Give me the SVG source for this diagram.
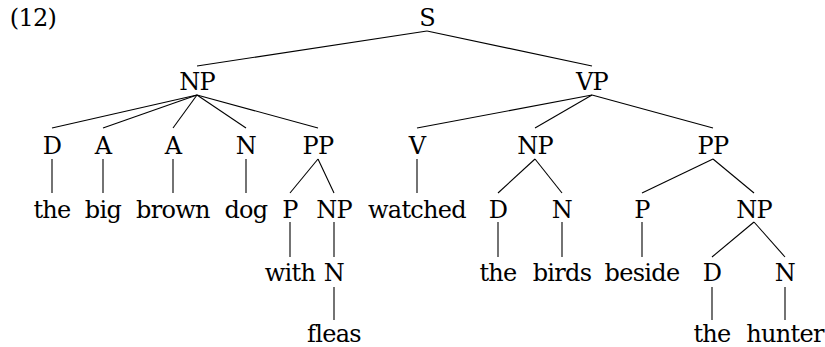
<svg xmlns="http://www.w3.org/2000/svg" width="825" height="347" viewBox="0 0 825 347">
<style>
text{font-family:'DejaVu Serif','Liberation Serif',serif;font-size:24px;letter-spacing:-0.7px;fill:#000;text-anchor:middle}
.e line{stroke:#000;stroke-width:1.1}
</style>
<rect width="825" height="347" fill="#fff"/>
<text x="33" y="26">(12)</text>
<g class="e" id="edges">
<line x1="427" y1="31" x2="197" y2="66"/>
<line x1="427" y1="31" x2="592" y2="66"/>
<line x1="197" y1="95" x2="52" y2="128"/>
<line x1="197" y1="95" x2="103" y2="128"/>
<line x1="197" y1="95" x2="173" y2="128"/>
<line x1="197" y1="95" x2="246" y2="128"/>
<line x1="197" y1="95" x2="318" y2="128"/>
<line x1="592" y1="95" x2="417" y2="128"/>
<line x1="592" y1="95" x2="535" y2="128"/>
<line x1="592" y1="95" x2="713" y2="128"/>
<line x1="52" y1="159" x2="52" y2="193"/>
<line x1="103" y1="159" x2="103" y2="193"/>
<line x1="173" y1="159" x2="173" y2="193"/>
<line x1="246" y1="159" x2="246" y2="193"/>
<line x1="318" y1="159" x2="290" y2="193"/>
<line x1="318" y1="159" x2="334" y2="193"/>
<line x1="417" y1="159" x2="417" y2="193"/>
<line x1="535" y1="159" x2="498" y2="193"/>
<line x1="535" y1="159" x2="562" y2="193"/>
<line x1="713" y1="159" x2="642" y2="193"/>
<line x1="713" y1="159" x2="754" y2="193"/>
<line x1="290" y1="222" x2="290" y2="257"/>
<line x1="334" y1="222" x2="334" y2="257"/>
<line x1="498" y1="222" x2="498" y2="257"/>
<line x1="562" y1="222" x2="562" y2="257"/>
<line x1="642" y1="222" x2="642" y2="257"/>
<line x1="754" y1="222" x2="712" y2="257"/>
<line x1="754" y1="222" x2="785" y2="257"/>
<line x1="334" y1="287" x2="334" y2="320"/>
<line x1="712" y1="287" x2="712" y2="320"/>
<line x1="785" y1="287" x2="785" y2="320"/>
</g>
<g id="n-S"><text x="427" y="26">S</text></g>
<g id="n-NP1"><text x="197" y="90">NP</text></g>
<g id="n-VP"><text x="592" y="90">VP</text></g>
<g id="n-D1"><text x="52" y="154">D</text></g>
<g id="n-A1"><text x="103" y="154">A</text></g>
<g id="n-A2"><text x="173" y="154">A</text></g>
<g id="n-N1"><text x="246" y="154">N</text></g>
<g id="n-PP1"><text x="318" y="154">PP</text></g>
<g id="n-V"><text x="417" y="154">V</text></g>
<g id="n-NP2"><text x="535" y="154">NP</text></g>
<g id="n-PP2"><text x="713" y="154">PP</text></g>
<g id="n-the1"><text x="52" y="218">the</text></g>
<g id="n-big"><text x="103" y="218">big</text></g>
<g id="n-brown"><text x="173" y="218">brown</text></g>
<g id="n-dog"><text x="246" y="218">dog</text></g>
<g id="n-P1"><text x="290" y="218">P</text></g>
<g id="n-NP3"><text x="334" y="218">NP</text></g>
<g id="n-watched"><text x="417" y="218">watched</text></g>
<g id="n-D2"><text x="498" y="218">D</text></g>
<g id="n-N2"><text x="562" y="218">N</text></g>
<g id="n-P2"><text x="642" y="218">P</text></g>
<g id="n-NP4"><text x="754" y="218">NP</text></g>
<g id="n-with"><text x="290" y="281">with</text></g>
<g id="n-N3"><text x="334" y="281">N</text></g>
<g id="n-the2"><text x="498" y="281">the</text></g>
<g id="n-birds"><text x="562" y="281">birds</text></g>
<g id="n-beside"><text x="642" y="281">beside</text></g>
<g id="n-D3"><text x="712" y="281">D</text></g>
<g id="n-N4"><text x="785" y="281">N</text></g>
<g id="n-fleas"><text x="334" y="342">fleas</text></g>
<g id="n-the3"><text x="712" y="342">the</text></g>
<g id="n-hunter"><text x="785" y="342">hunter</text></g>
</svg>
